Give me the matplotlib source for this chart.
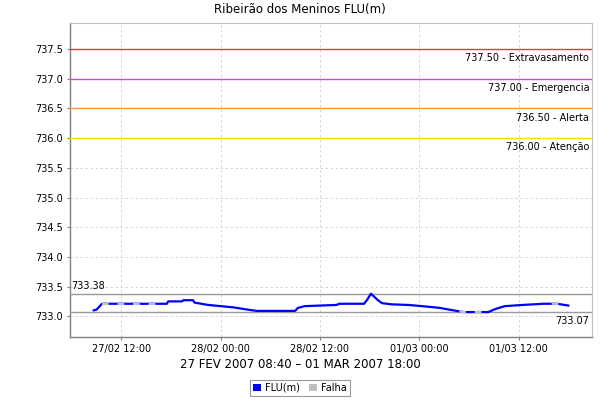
import matplotlib
matplotlib.use("Agg")
import matplotlib.pyplot as plt
import matplotlib.dates as mdates
from matplotlib.patches import Patch
import numpy as np
import pandas as pd

title = "Ribeirão dos Meninos FLU(m)"
xlabel = "27 FEV 2007 08:40 – 01 MAR 2007 18:00"
series_name = "FLU(m)"
falha_name = "Falha"

times = [
    "2007-02-27 08:40", "2007-02-27 09:00", "2007-02-27 09:40", "2007-02-27 17:30",
    "2007-02-27 17:40", "2007-02-27 19:20", "2007-02-27 19:30", "2007-02-27 20:40",
    "2007-02-27 20:50", "2007-02-27 22:30", "2007-02-28 01:30", "2007-02-28 03:20",
    "2007-02-28 04:20", "2007-02-28 09:00", "2007-02-28 09:20", "2007-02-28 10:10",
    "2007-02-28 14:00", "2007-02-28 14:20", "2007-02-28 17:20", "2007-02-28 17:40",
    "2007-02-28 18:10", "2007-02-28 19:00", "2007-02-28 19:30", "2007-02-28 20:40",
    "2007-02-28 22:40", "2007-03-01 00:20", "2007-03-01 02:30", "2007-03-01 03:40",
    "2007-03-01 05:20", "2007-03-01 08:20", "2007-03-01 09:10", "2007-03-01 10:20",
    "2007-03-01 12:30", "2007-03-01 15:00", "2007-03-01 16:40", "2007-03-01 18:00",
]
values = [
    733.10, 733.11, 733.21, 733.21,
    733.25, 733.25, 733.27, 733.27,
    733.23, 733.19, 733.15, 733.11,
    733.09, 733.09, 733.14, 733.17,
    733.19, 733.21, 733.21, 733.27,
    733.38, 733.27, 733.22, 733.20,
    733.19, 733.17, 733.14, 733.11,
    733.07, 733.07, 733.12, 733.17,
    733.19, 733.21, 733.21, 733.18,
]

falha_start = ["2007-02-27 09:40", "2007-03-01 04:50", "2007-03-01 16:00"]
falha_end = ["2007-02-27 16:40", "2007-03-01 08:30", "2007-03-01 16:55"]

threshold_values = [737.50, 737.00, 736.50, 736.00]
threshold_names = ["Extravasamento", "Emergencia", "Alerta", "Atenção"]
threshold_colors = ["#e03c3c", "#dd44dd", "#ff9933", "#ffdd00"]

ytick_values = [733.0, 733.5, 734.0, 734.5, 735.0, 735.5, 736.0, 736.5, 737.0, 737.5]
xtick_times = ["2007-02-27 12:00", "2007-02-28 00:00", "2007-02-28 12:00",
               "2007-03-01 00:00", "2007-03-01 12:00"]
xtick_labels = ["27/02 12:00", "28/02 00:00", "28/02 12:00", "01/03 00:00", "01/03 12:00"]

t = pd.to_datetime(times)
v = np.array(values)

fig = plt.figure(figsize=(6, 4), dpi=100)
ax = fig.add_axes([70/600, 1-337/400, (592-70)/600, (337-23)/400])

# main series
ax.plot(t, v, color="#0000ff", lw=1.6, solid_joinstyle="round", zorder=4)
# falha overlay
dense_t = pd.date_range(t[0], t[-1], freq="10min")
dense_v = np.interp(mdates.date2num(dense_t), mdates.date2num(t), v)
for s, e in zip(pd.to_datetime(falha_start), pd.to_datetime(falha_end)):
    m = (dense_t >= s) & (dense_t <= e)
    ax.plot(dense_t[m], dense_v[m], color="#c0c0c0", lw=1.6, ls=(0, (3, 4)), zorder=5)

# thresholds
for tv, tn, tc in zip(threshold_values, threshold_names, threshold_colors):
    ax.axhline(tv, color=tc, lw=1.0, zorder=3)
    ax.annotate(f"{tv:.2f} - {tn}", xy=(1, tv), xycoords=("axes fraction", "data"),
                xytext=(-2, -3), textcoords="offset points", ha="right", va="top",
                fontsize=7, color="black")

# max / min
vmax, vmin = v.max(), v.min()
ax.axhline(vmax, color="#999999", lw=1.0, zorder=3)
ax.axhline(vmin, color="#999999", lw=1.0, zorder=3)
ax.annotate(f"{vmax:.2f}", xy=(0, vmax), xycoords=("axes fraction", "data"),
            xytext=(1, 2), textcoords="offset points", ha="left", va="bottom",
            fontsize=7, color="black")
ax.annotate(f"{vmin:.2f}", xy=(1, vmin), xycoords=("axes fraction", "data"),
            xytext=(-2, -3), textcoords="offset points", ha="right", va="top",
            fontsize=7, color="black")

# limits
t0, t1 = mdates.date2num(t[0]), mdates.date2num(t[-1])
span = t1 - t0
ax.set_xlim(t0 - 0.05*span, t1 + 0.05*span)
ax.set_ylim(732.65, 737.94)

ax.set_xticks(mdates.date2num(pd.to_datetime(xtick_times)))
ax.set_xticklabels(xtick_labels)
ax.set_yticks(ytick_values)
ax.set_yticklabels([f"{y:.1f}" for y in ytick_values])
ax.tick_params(axis="both", labelsize=7, length=2, width=0.8, color="#808080", pad=3)

ax.grid(True, color="#d0d0d0", ls=(0, (3, 3)), lw=0.6, zorder=0)
ax.set_axisbelow(True)

for sp in ["top", "right"]:
    ax.spines[sp].set_color("#c0c0c0")
    ax.spines[sp].set_linewidth(0.8)
for sp in ["left", "bottom"]:
    ax.spines[sp].set_color("#808080")
    ax.spines[sp].set_linewidth(1.0)

fig.text(0.5, 1-10/400, title, ha="center", va="center", fontsize=8.5)
fig.text(0.5, 1-364/400, xlabel, ha="center", va="center", fontsize=8.5)

handles = [Patch(facecolor="#0000ff", edgecolor="none", label=series_name),
           Patch(facecolor="#c0c0c0", edgecolor="none", label=falha_name)]
leg = fig.legend(handles=handles, loc="center", bbox_to_anchor=(0.5, 1-388/400),
                 ncol=2, fontsize=7, frameon=True, fancybox=False,
                 handlelength=0.8, handleheight=0.8, handletextpad=0.4,
                 columnspacing=1.0, borderpad=0.3, borderaxespad=0)
leg.get_frame().set_edgecolor("#808080")
leg.get_frame().set_linewidth(0.8)

fig.savefig("out.png", dpi=100)
